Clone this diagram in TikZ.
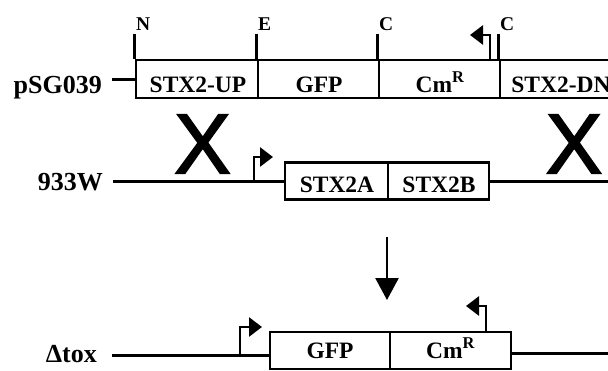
\documentclass[tikz,border=0pt]{standalone}
\usepackage{fontspec}
\setmainfont{Liberation Serif}
\newfontfamily\xfont[FakeBold=2]{Liberation Sans}
\usetikzlibrary{arrows.meta}
\begin{document}
\begin{tikzpicture}[x=1pt,y=-1pt,
  seg/.style={draw,line width=2.8pt,inner sep=0pt,minimum height=38pt},
  segtext/.style={anchor=base,inner sep=0pt,font=\bfseries\fontsize{23.5}{23.5}\selectfont},
  rowlabel/.style={anchor=base east,inner sep=0pt,font=\bfseries\fontsize{26}{26}\selectfont},
  sitelabel/.style={anchor=base west,inner sep=0pt,font=\bfseries\fontsize{19.5}{19.5}\selectfont},
  mainline/.style={line width=3pt},
  tickline/.style={line width=2.8pt},
  promoter/.style={line width=2.8pt,-{Triangle[length=13pt,width=19pt]}},
  bigx/.style={inner sep=0pt,font=\xfont\fontsize{85}{85}\selectfont},
  ]
\useasboundingbox (0,0) rectangle (608,370);
\clip (0,0) rectangle (608,370);

% ---- Row 1: pSG039
\node[rowlabel] (lp) at (102,93) {pSG039};
\node[seg,minimum width=122pt] (up) at (197,79) {};
\node[seg,minimum width=121pt] (gfp1) at (318.5,79) {};
\node[seg,minimum width=121pt] (cm1) at (439.5,79) {};
\node[seg,minimum width=120pt] (dn) at (560,79) {};
\node[segtext] (tup) at (198,92) {STX2-UP};
\node[segtext] (tgfp1) at (319,92) {GFP};
\node[segtext] (tcm1) at (440,92) {Cm\textsuperscript{R}};
\node[segtext] (tdn) at (561,92) {STX2-DN};
\draw[mainline] (up.west) -- ++(-23,0);
\node[sitelabel] (sN) at (136,30) {N};
\node[sitelabel] (sE) at (258,30) {E};
\node[sitelabel] (sC1) at (379,30) {C};
\node[sitelabel] (sC2) at (500,30) {C};
\draw[tickline] (up.north west) -- ++(0,-25);
\draw[tickline] (gfp1.north west) -- ++(0,-25);
\draw[tickline] (cm1.north west) -- ++(0,-25);
\draw[tickline] (dn.north west) -- ++(0,-25);
\coordinate (p1) at (490,60);
\draw[promoter] (p1) -- (490,35) -- (470,35);

% ---- Row 2: 933W
\node[rowlabel] (lw) at (103,190) {933W};
\node[seg,minimum width=103pt,minimum height=37pt] (sa) at (336.5,181) {};
\node[seg,minimum width=101pt,minimum height=37pt] (sb) at (438.5,181) {};
\node[segtext] (tsa) at (337,192) {STX2A};
\node[segtext] (tsb) at (439,192) {STX2B};
\draw[mainline] (sa.west) -- ++(-171,0);
\draw[mainline] (sb.east) -- ++(130,0);
\coordinate (p2) at (254,181);
\draw[promoter] (p2) -- (254,157) -- (273,157);
\node[bigx] (x1) at (202.5,144) {X};
\node[bigx] (x2) at (574,144) {X};

% ---- arrow
\coordinate (a1) at (387,237);
\coordinate (a2) at (387,300);
\draw[line width=2.6pt,-{Triangle[length=22pt,width=23pt]}] (a1) -- (a2);

% ---- Row 3: Delta tox
\node[rowlabel] (ld) at (97,362) {Δtox};
\node[seg,minimum width=120pt,minimum height=37pt] (g3) at (330,350.5) {};
\node[seg,minimum width=121pt,minimum height=37pt] (c3) at (450.5,350.5) {};
\node[segtext] (tg3) at (330,358) {GFP};
\node[segtext] (tc3) at (450.5,358) {Cm\textsuperscript{R}};
\draw[mainline] ([yshift=-4.5pt]g3.west) -- ++(-157,0);
\draw[mainline] ([yshift=-2.5pt]c3.east) -- ++(100,0);
\coordinate (p3) at (240,355);
\draw[promoter] (p3) -- (240,327) -- (262,327);
\coordinate (p4) at (486,332);
\draw[promoter] (p4) -- (486,306) -- (466,306);
\end{tikzpicture}
\end{document}
